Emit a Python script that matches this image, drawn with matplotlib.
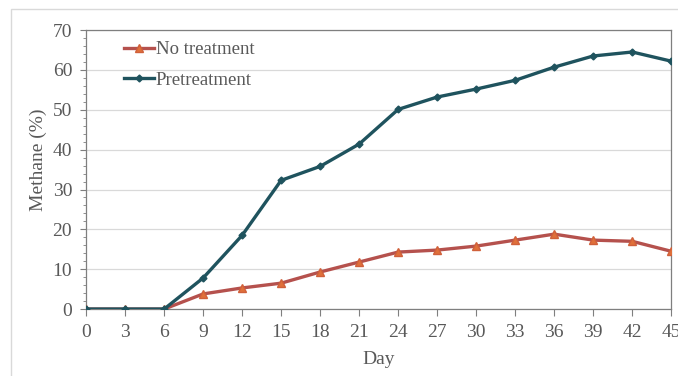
import numpy as np
import matplotlib.pyplot as plt
from matplotlib.patches import Rectangle
from matplotlib.ticker import MultipleLocator

day = [0, 3, 6, 9, 12, 15, 18, 21, 24, 27, 30, 33, 36, 39, 42, 45]
no_treatment = [0, 0, 0, 3.8, 5.3, 6.5, 9.3, 11.8, 14.3, 14.8, 15.8, 17.3, 18.8, 17.3, 17.0, 14.5]
pretreatment = [0, 0, 0, 7.8, 18.5, 32.3, 35.8, 41.4, 50.1, 53.2, 55.2, 57.4, 60.7, 63.5, 64.5, 62.2]

plt.rcParams['font.family'] = ['Liberation Serif', 'DejaVu Serif']
txt = '#595959'

fig = plt.figure(figsize=(6.78, 3.76), dpi=100)
ax = fig.add_axes([0.127, 0.178, 0.863, 0.742])

# light frame around whole chart (right and bottom edges run off the image)
fig.patches.append(Rectangle((11/678, -0.05), 1.0, 1.05 - 9/376, transform=fig.transFigure,
                             fill=False, ec='#d9d9d9', lw=1.0))

ax.plot(day, no_treatment, color='#b5514d', lw=2.4, marker='^', ms=6,
        mfc='#e0703a', mec='#d0603a', label='No treatment', zorder=3)
ax.plot(day, pretreatment, color='#1f535e', lw=2.4, marker='D', ms=3.5,
        mfc='#1f535e', mec='#1f535e', label='Pretreatment', zorder=4)

ax.set_xlim(0, 45)
ax.set_ylim(0, 70)
ax.set_xticks(day)
ax.yaxis.set_major_locator(MultipleLocator(10))
ax.yaxis.set_minor_locator(MultipleLocator(2))
ax.grid(axis='y', color='#d9d9d9', lw=0.9)
ax.set_axisbelow(True)
for s in ax.spines.values():
    s.set_color('#7f7f7f')
    s.set_linewidth(0.9)
ax.tick_params(axis='both', colors='#7f7f7f', labelcolor=txt, labelsize=14, direction='out')
ax.tick_params(axis='x', length=5, pad=6)
ax.tick_params(axis='y', which='major', length=4, pad=6)
ax.tick_params(axis='y', which='minor', length=2.5, color='#7f7f7f')

ax.set_xlabel('Day', color=txt, fontsize=14, labelpad=7)
ax.set_ylabel('Methane (%)', color=txt, fontsize=14)
ax.yaxis.set_label_coords(-0.067, 0.535)

leg = ax.legend(loc='upper left', bbox_to_anchor=(0.045, 1.0), frameon=False, fontsize=13.5,
                handlelength=1.6, handletextpad=0.1, labelspacing=0.7, borderaxespad=0.2)
for t in leg.get_texts():
    t.set_color(txt)

fig.savefig('out.png', dpi=100)
